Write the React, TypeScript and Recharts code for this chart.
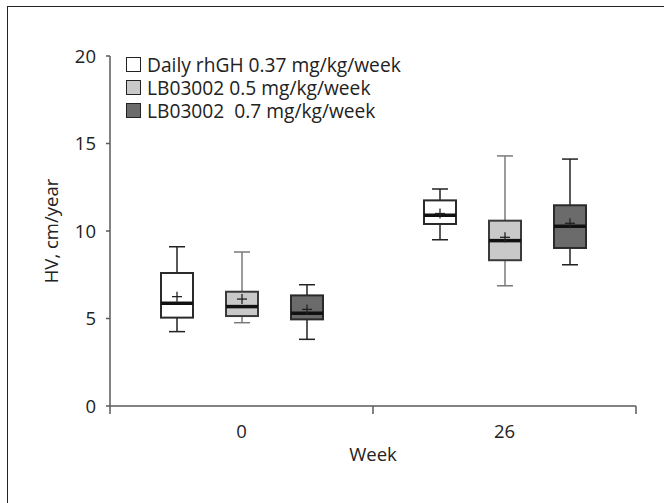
import React from "react";
import { Bar, ComposedChart, XAxis, YAxis, Label } from "recharts";

const weeks = ["0", "26"];

// per-series box stats, one value per week
const dailyMin = [4.25, 9.5];
const dailyQ1 = [5.05, 10.4];
const dailyMedian = [5.87, 10.9];
const dailyQ3 = [7.6, 11.75];
const dailyMax = [9.1, 12.4];
const dailyMean = [6.25, 11.0];

const lb05Min = [4.76, 6.87];
const lb05Q1 = [5.14, 8.33];
const lb05Median = [5.68, 9.45];
const lb05Q3 = [6.53, 10.59];
const lb05Max = [8.8, 14.29];
const lb05Mean = [6.11, 9.64];

const lb07Min = [3.81, 8.07];
const lb07Q1 = [4.95, 9.03];
const lb07Median = [5.3, 10.27];
const lb07Q3 = [6.32, 11.47];
const lb07Max = [6.93, 14.11];
const lb07Mean = [5.52, 10.44];

const yTicks = [0, 5, 10, 15, 20];

const seriesNames = [
  "Daily rhGH 0.37 mg/kg/week",
  "LB03002 0.5 mg/kg/week",
  "LB03002  0.7 mg/kg/week"
];

const data = weeks.map((w, i) => ({
  week: w,
  daily: { min: dailyMin[i], q1: dailyQ1[i], median: dailyMedian[i], q3: dailyQ3[i], max: dailyMax[i], mean: dailyMean[i] },
  lb05: { min: lb05Min[i], q1: lb05Q1[i], median: lb05Median[i], q3: lb05Q3[i], max: lb05Max[i], mean: lb05Mean[i] },
  lb07: { min: lb07Min[i], q1: lb07Q1[i], median: lb07Median[i], q3: lb07Q3[i], max: lb07Max[i], mean: lb07Mean[i] }
}));

const styles: Record<string, { fill: string; stroke: string; whisker: string }> = {
  daily: { fill: "#ffffff", stroke: "#2a2a2a", whisker: "#222222" },
  lb05: { fill: "#c9c9c9", stroke: "#3a3a3a", whisker: "#7a7a7a" },
  lb07: { fill: "#6b6b6b", stroke: "#2a2a2a", whisker: "#222222" }
};

const FONT = "'Open Sans', sans-serif";
const FS = 18.5;
const AXIS = "#5a5a5a";

function makeBox(key: string) {
  return (props: any) => {
    const { x, y, width, height, payload } = props;
    const s = payload[key];
    const st = styles[key];
    const top = Math.min(y, y + height);
    const h = Math.abs(height);
    const ppu = h / (s.max - s.min);
    const yOf = (v: number) => top + (s.max - v) * ppu;
    const cx = x + width / 2;
    const cap = 8;
    return (
      <g>
        <line x1={cx} x2={cx} y1={yOf(s.max)} y2={yOf(s.q3)} stroke={st.whisker} strokeWidth={1.5} />
        <line x1={cx} x2={cx} y1={yOf(s.q1)} y2={yOf(s.min)} stroke={st.whisker} strokeWidth={1.5} />
        <line x1={cx - cap} x2={cx + cap} y1={yOf(s.max)} y2={yOf(s.max)} stroke={st.whisker} strokeWidth={1.5} />
        <line x1={cx - cap} x2={cx + cap} y1={yOf(s.min)} y2={yOf(s.min)} stroke={st.whisker} strokeWidth={1.5} />
        <rect
          x={x}
          y={yOf(s.q3)}
          width={width}
          height={yOf(s.q1) - yOf(s.q3)}
          fill={st.fill}
          stroke={st.stroke}
          strokeWidth={2}
        />
        <line x1={x} x2={x + width} y1={yOf(s.median)} y2={yOf(s.median)} stroke="#111" strokeWidth={3.5} />
        <line x1={cx - 5} x2={cx + 5} y1={yOf(s.mean)} y2={yOf(s.mean)} stroke="#222" strokeWidth={1.3} />
        <line x1={cx} x2={cx} y1={yOf(s.mean) - 5} y2={yOf(s.mean) + 5} stroke="#222" strokeWidth={1.3} />
      </g>
    );
  };
}

function WeekTick(props: any) {
  const { x, y, payload, index, visibleTicksCount } = props;
  const half = payload && payload.offset ? payload.offset : 131.5;
  const isLast = index === (visibleTicksCount ?? weeks.length) - 1;
  return (
    <g>
      <line x1={x - half} x2={x - half} y1={y - 8} y2={y} stroke={AXIS} strokeWidth={1.5} />
      {isLast && <line x1={x + half} x2={x + half} y1={y - 8} y2={y} stroke={AXIS} strokeWidth={1.5} />}
      <text x={x} y={y + 24} textAnchor="middle" fontFamily={FONT} fontSize={FS} fill="#222">
        {payload.value}
      </text>
    </g>
  );
}

export default function App() {
  return (
    <div style={{ position: "fixed", left: 0, top: 0, width: 664, height: 503, background: "#fff", overflow: "hidden" }}>
      <div
        style={{
          position: "absolute",
          left: 7,
          top: 6,
          width: 700,
          height: 600,
          borderTop: "1.5px solid #222",
          borderLeft: "1.5px solid #222"
        }}
      />
      <div style={{ position: "absolute", left: 0, top: 0 }}>
        <ComposedChart
          width={664}
          height={503}
          data={data}
          margin={{ top: 56, right: 28, bottom: 67, left: 50 }}
          barSize={32}
          barGap={33}
        >
          <XAxis
            dataKey="week"
            height={30}
            stroke={AXIS}
            strokeWidth={1.5}
            tickLine={false}
            tick={<WeekTick />}
            interval={0}
          >
            <Label value="Week" position="insideBottom" offset={-25} fontFamily={FONT} fontSize={FS} fill="#222" />
          </XAxis>
          <YAxis
            width={60}
            domain={[0, 20]}
            ticks={yTicks}
            interval={0}
            stroke={AXIS}
            strokeWidth={1.5}
            tickSize={4}
            tickMargin={10}
            tick={{ fontFamily: FONT, fontSize: FS, fill: "#222" }}
          >
            <Label
              value="HV, cm/year"
              angle={-90}
              position="insideLeft"
              offset={1}
              style={{ textAnchor: "middle" }}
              fontFamily={FONT}
              fontSize={FS}
              fill="#222"
            />
          </YAxis>
          <Bar dataKey={(d: any) => [d.daily.min, d.daily.max]} isAnimationActive={false} shape={makeBox("daily")} />
          <Bar dataKey={(d: any) => [d.lb05.min, d.lb05.max]} isAnimationActive={false} shape={makeBox("lb05")} />
          <Bar dataKey={(d: any) => [d.lb07.min, d.lb07.max]} isAnimationActive={false} shape={makeBox("lb07")} />
        </ComposedChart>
      </div>
      <div style={{ position: "absolute", left: 126, top: 53, fontFamily: FONT, fontSize: 19.2, color: "#222", lineHeight: "23px" }}>
        {seriesNames.map((name, i) => {
          const key = ["daily", "lb05", "lb07"][i];
          return (
            <div key={name} style={{ display: "flex", alignItems: "center", whiteSpace: "pre" }}>
              <span
                style={{
                  display: "inline-block",
                  width: 13,
                  height: 13,
                  background: styles[key].fill,
                  border: "1.5px solid #222",
                  marginRight: 6
                }}
              />
              {name}
            </div>
          );
        })}
      </div>
    </div>
  );
}
